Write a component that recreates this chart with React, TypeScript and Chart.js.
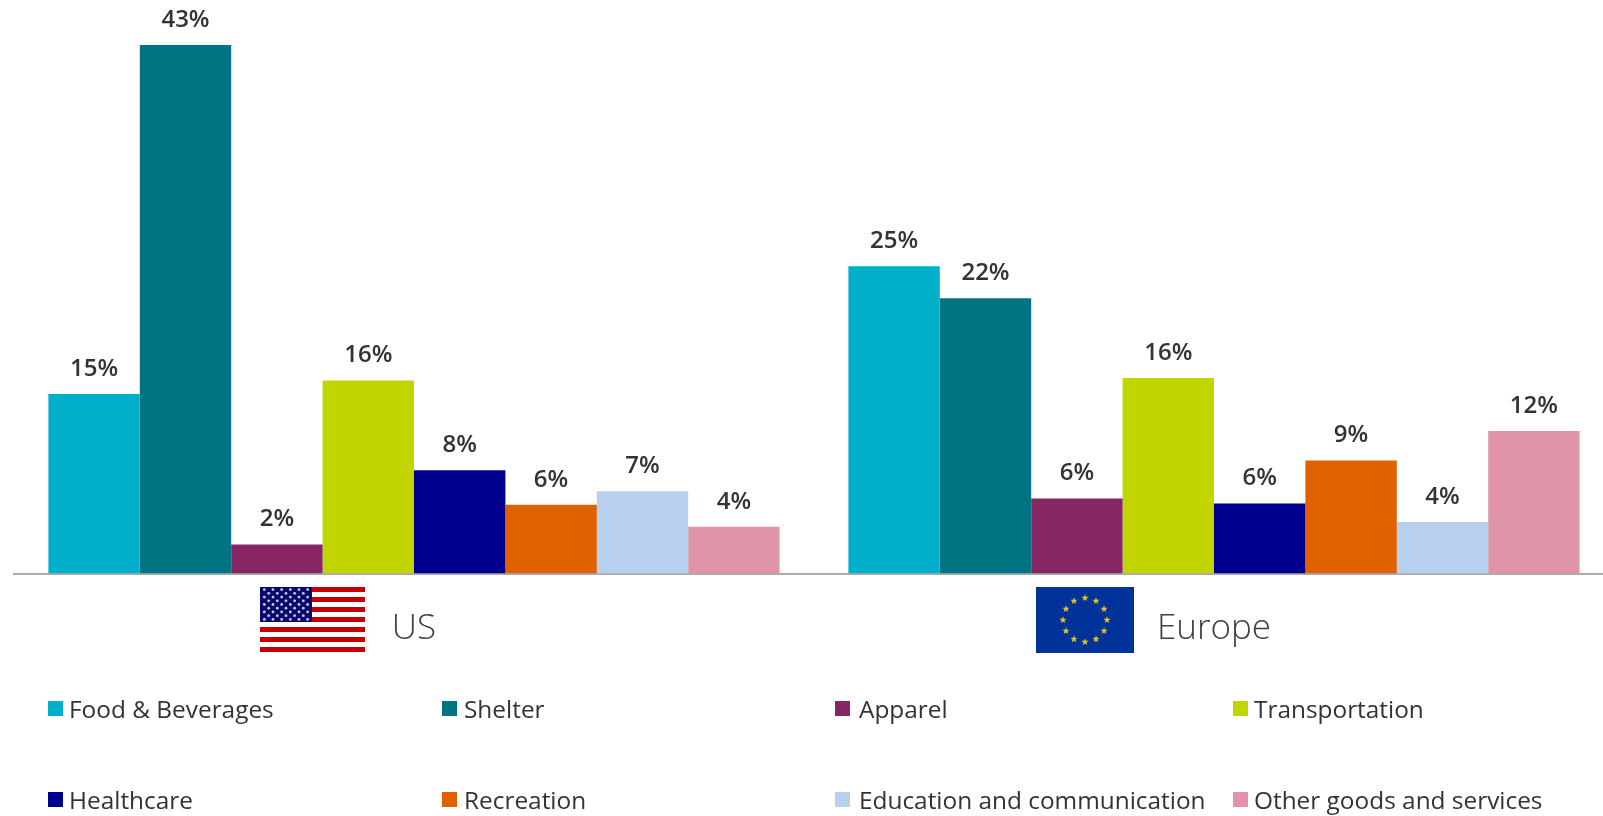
import React, { useEffect, useRef } from "react";
import { Chart, registerables } from "chart.js";

Chart.register(...registerables);

const categories = ["US", "Europe"];
const seriesNames = ["Food & Beverages", "Shelter", "Apparel", "Transportation", "Healthcare", "Recreation", "Education and communication", "Other goods and services"];
const seriesColors = ["#00B0CA", "#007482", "#862663", "#C3D500", "#00008F", "#E06100", "#B6D0EE", "#E195AB"];
const food = [14.6, 25.0];
const shelter = [43.0, 22.4];
const apparel = [2.35, 6.1];
const transportation = [15.7, 15.9];
const healthcare = [8.4, 5.7];
const recreation = [5.6, 9.2];
const education = [6.7, 4.2];
const other = [3.8, 11.6];
const seriesValues = [food, shelter, apparel, transportation, healthcare, recreation, education, other];
const legendColumns = [48, 442, 835, 1233];
const legendGaps = [6, 7, 9, 6];
const legendRows = [708, 799];
const FONT = '"Open Sans", sans-serif';

function drawUS(ctx: CanvasRenderingContext2D, x: number, y: number, w: number, h: number) {
  ctx.fillStyle = "#fff";
  ctx.fillRect(x, y, w, h);
  ctx.fillStyle = "#C40000";
  const s = h / 13;
  for (let i = 0; i < 13; i += 2) ctx.fillRect(x, y + i * s, w, s);
  const cw = w * 0.495, ch = s * 7;
  ctx.fillStyle = "#0A0A6E";
  ctx.fillRect(x, y, cw, ch);
  ctx.fillStyle = "#C8C8E0";
  for (let r = 0; r < 9; r++) {
    const n = r % 2 ? 5 : 6;
    for (let c = 0; c < n; c++) {
      const sx = x + cw * ((c + (r % 2 ? 1 : 0.5)) / 6);
      const sy = y + ch * ((r + 0.7) / 9.4);
      ctx.beginPath();
      ctx.arc(sx, sy, 1.4, 0, Math.PI * 2);
      ctx.fill();
    }
  }
}

function drawEU(ctx: CanvasRenderingContext2D, x: number, y: number, w: number, h: number) {
  ctx.fillStyle = "#003399";
  ctx.fillRect(x, y, w, h);
  ctx.fillStyle = "#E8C020";
  const cx = x + w / 2, cy = y + h / 2, r = h / 3;
  for (let i = 0; i < 12; i++) {
    const a = (i / 12) * Math.PI * 2;
    const sx = cx + Math.sin(a) * r, sy = cy - Math.cos(a) * r;
    ctx.beginPath();
    for (let k = 0; k < 10; k++) {
      const rad = k % 2 ? 1.6 : 3.8;
      const t = (k / 10) * Math.PI * 2;
      ctx.lineTo(sx + Math.sin(t) * rad, sy - Math.cos(t) * rad);
    }
    ctx.closePath();
    ctx.fill();
  }
}

const overlay = {
  id: "overlay",
  afterDatasetsDraw(chart: any) {
    const { ctx } = chart;
    ctx.save();
    ctx.font = `600 24px ${FONT}`;
    ctx.fillStyle = "#333";
    ctx.textAlign = "center";
    ctx.textBaseline = "middle";
    chart.data.datasets.forEach((ds: any, i: number) => {
      chart.getDatasetMeta(i).data.forEach((bar: any, j: number) => {
        ctx.fillText(`${Math.round(ds.data[j])}%`, bar.x, bar.y - 25);
      });
    });
    const xs = chart.scales.x;
    drawUS(ctx, xs.getPixelForTick(0) - 154, 587, 105, 65);
    drawEU(ctx, xs.getPixelForTick(1) - 178, 587, 98, 66);
    ctx.restore();
  },
};

export default function App() {
  const ref = useRef<HTMLCanvasElement>(null);
  useEffect(() => {
    const chart = new Chart(ref.current!, {
      type: "bar",
      data: {
        labels: categories,
        datasets: seriesNames.map((label, i) => ({
          label,
          data: seriesValues[i],
          backgroundColor: seriesColors[i],
          borderWidth: 0,
          categoryPercentage: 0.914,
          barPercentage: 1,
        })),
      },
      options: {
        responsive: false,
        animation: false,
        layout: { padding: { left: 14, right: 0, top: 0, bottom: 0 } },
        plugins: { legend: { display: false }, tooltip: { enabled: false } },
        scales: {
          x: {
            grid: { display: false, drawTicks: false },
            border: { color: "#ABABAB", width: 2 },
            ticks: {
              padding: 35,
              color: "#404040",
              font: { family: FONT, size: 35, weight: "300" },
              maxRotation: 0,
            },
            afterFit(scale: any) {
              scale.height = 242.5;
            },
          },
          y: { display: false, min: 0, max: 46.66 },
        },
      },
      plugins: [overlay],
    } as any);
    return () => chart.destroy();
  }, []);

  return (
    <div style={{ position: "fixed", left: 0, top: 0, width: 1603, height: 816, overflow: "hidden", background: "#fff" }}>
      <canvas ref={ref} width={1614} height={816} style={{ display: "block" }} />
      {seriesNames.map((name, i) => (
        <div
          key={name}
          style={{
            position: "absolute",
            left: legendColumns[i % 4],
            top: legendRows[Math.floor(i / 4)] - 20,
            height: 40,
            display: "flex",
            alignItems: "center",
            whiteSpace: "nowrap",
            fontFamily: FONT,
            fontSize: 24.4,
            color: "#333",
          }}
        >
          <span style={{ width: 15, height: 15, background: seriesColors[i], marginRight: legendGaps[i % 4], display: "inline-block" }} />
          {name}
        </div>
      ))}
    </div>
  );
}
